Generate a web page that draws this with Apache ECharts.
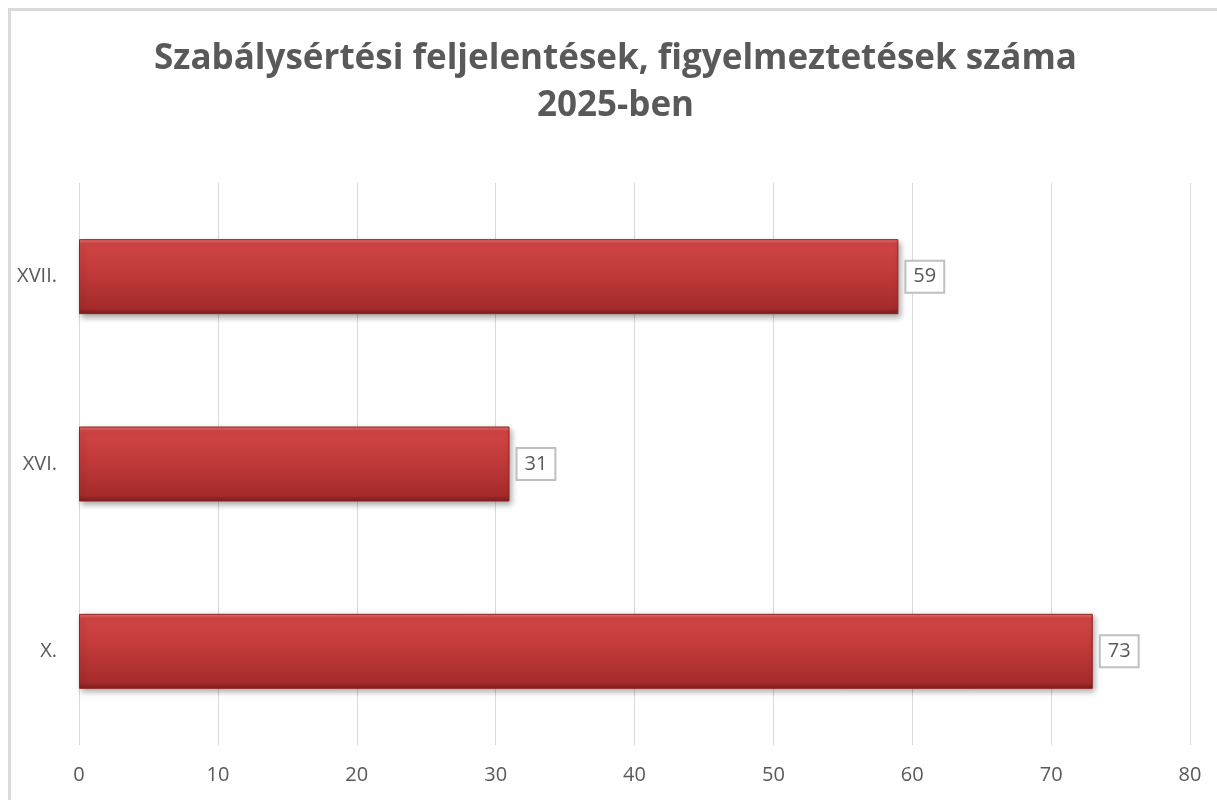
<!DOCTYPE html>
<html>
<head>
<meta charset="utf-8">
<script src="https://cdn.jsdelivr.net/npm/echarts@6/dist/echarts.min.js"></script>
<style>
  html, body { margin: 0; padding: 0; background: #fff; }
  #charts { position: absolute; left: 8px; top: 8px; width: 1212px; height: 800px;
            box-sizing: border-box; border-left: 3px solid #d9d9d9; border-top: 3px solid #d9d9d9; }
</style>
</head>
<body>
<div id="charts"></div>
<script>
var categories = ['X.', 'XVI.', 'XVII.'];
var values = [73, 31, 59];
var xTicks = [0, 10, 20, 30, 40, 50, 60, 70, 80];

var myChart = echarts.init(document.getElementById('charts'));
var barColor = new echarts.graphic.LinearGradient(0, 0, 0, 1, [
    { offset: 0, color: '#ee7070' },
    { offset: 0.06, color: '#d24545' },
    { offset: 0.5, color: '#bf3838' },
    { offset: 0.92, color: '#a52b2b' },
    { offset: 1, color: '#7c1c1c' }
]);

myChart.setOption({
    title: {
        text: 'Szabálysértési feljelentések, figyelmeztetések száma\n2025-ben',
        left: 'center',
        top: 20,
        textStyle: {
            fontFamily: 'Open Sans',
            fontWeight: 'bold',
            fontSize: 35,
            color: '#595959',
            lineHeight: 47
        }
    },
    grid: {
        left: 68,
        right: 30,
        top: 172,
        bottom: 63,
        containLabel: false
    },
    xAxis: {
        type: 'value',
        min: 0,
        max: 80,
        interval: 10,
        axisLine: { show: false },
        axisTick: { show: false },
        splitLine: { lineStyle: { color: '#d9d9d9', width: 1 } },
        axisLabel: {
            color: '#595959',
            fontSize: 20,
            fontFamily: 'Open Sans',
            margin: 20,
            formatter: function (v) { return xTicks.indexOf(v) >= 0 ? String(v) : ''; }
        }
    },
    yAxis: {
        type: 'category',
        data: categories,
        axisLine: { show: false },
        axisTick: { show: false },
        axisLabel: {
            color: '#595959',
            fontSize: 20,
            fontFamily: 'Open Sans',
            margin: 22
        }
    },
    series: [{
        type: 'bar',
        data: values,
        barWidth: 75,
        itemStyle: {
            color: barColor,
            borderColor: '#8e2323',
            borderWidth: 1,
            shadowColor: 'rgba(0,0,0,0.35)',
            shadowBlur: 6,
            shadowOffsetX: 2,
            shadowOffsetY: 3
        },
        label: {
            show: true,
            position: 'right',
            distance: 8,
            color: '#595959',
            fontSize: 20,
            fontFamily: 'Open Sans',
            backgroundColor: '#fff',
            borderColor: '#bfbfbf',
            borderWidth: 2,
            padding: [6, 7, 4, 7]
        }
    }]
});
</script>
</body>
</html>
